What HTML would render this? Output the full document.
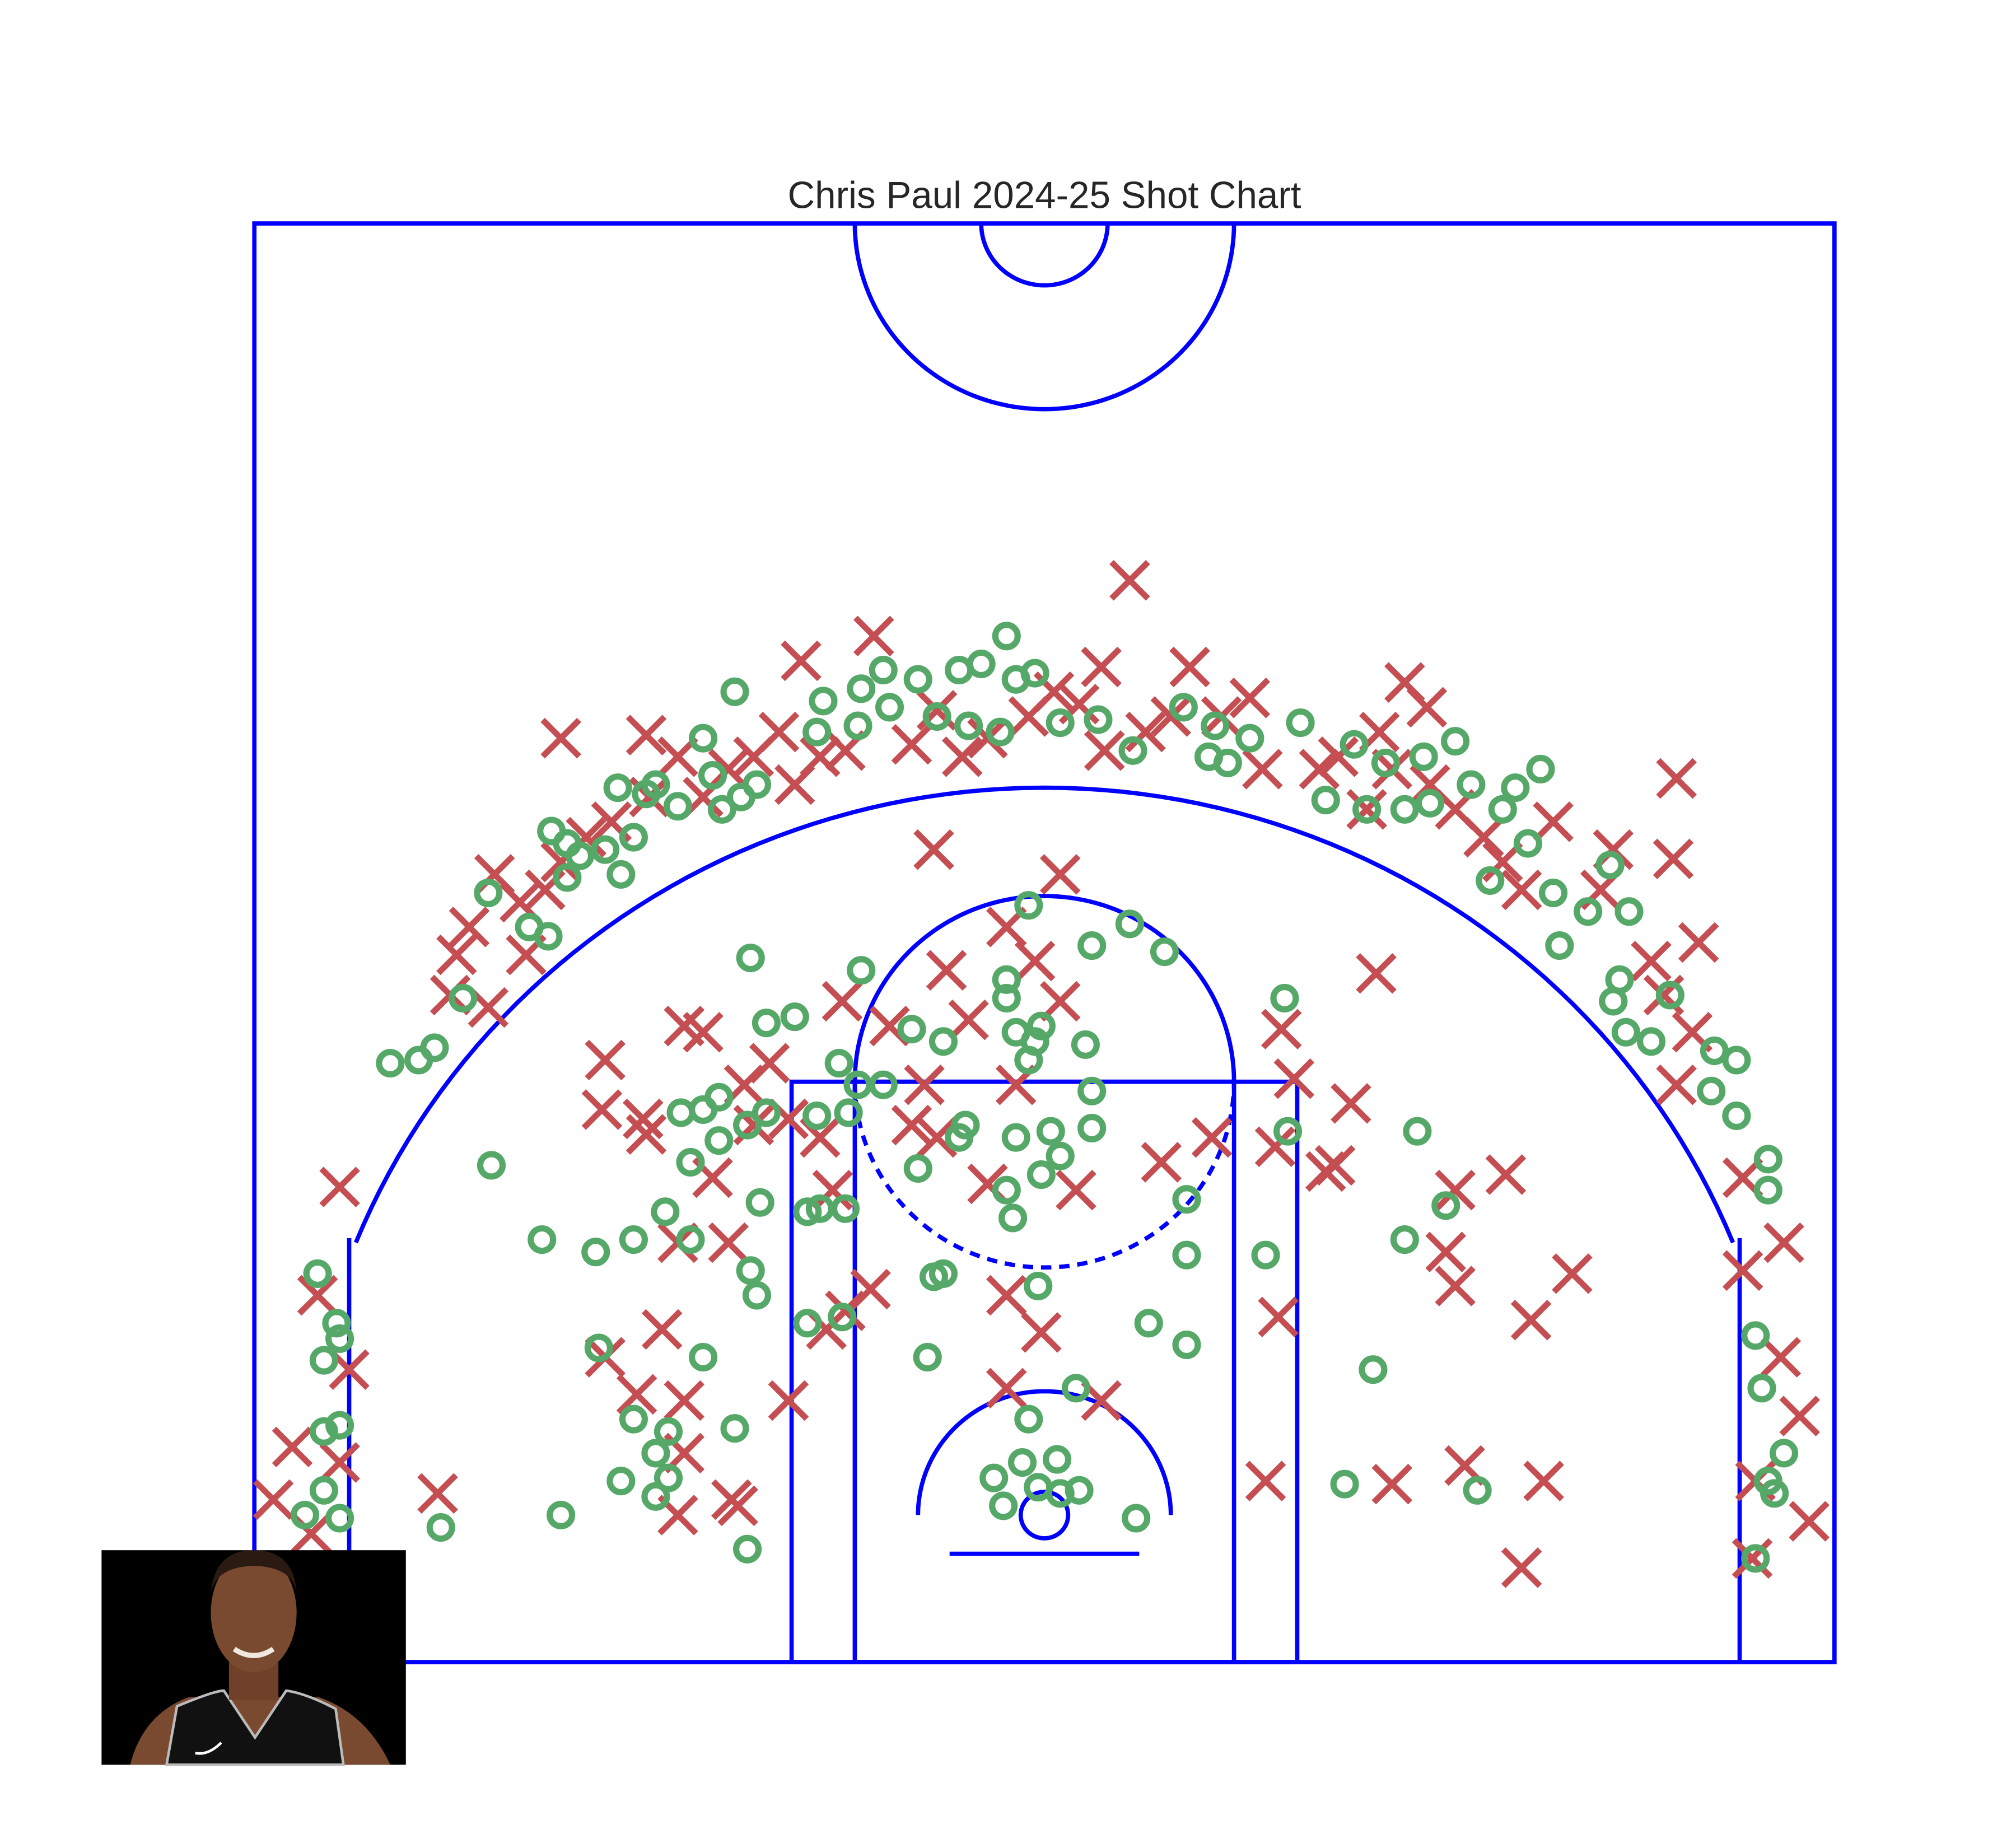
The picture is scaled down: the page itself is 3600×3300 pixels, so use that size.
<!DOCTYPE html>
<html><head><meta charset="utf-8"><title>Chris Paul 2024-25 Shot Chart</title>
<style>html,body{margin:0;padding:0;background:#fff}svg{display:block}</style></head>
<body>
<svg id="chart" width="3600" height="3300" viewBox="0 0 1550 1421" xmlns="http://www.w3.org/2000/svg">
<rect width="1550" height="1421" fill="#fff"/>
<text x="803" y="160" text-anchor="middle" font-family="Liberation Sans, sans-serif" font-size="29" fill="#262626">Chris Paul 2024-25 Shot Chart</text>
<g id="court" fill="none" stroke="#0000ff" stroke-width="3.3"></g>
<g id="misses"></g>
<g id="makes"></g>
<g id="photo">
  <rect x="78" y="1192" width="234" height="165" fill="#000"/>
  <path d="M100 1357 Q110 1318 145 1305 L245 1305 Q282 1318 300 1357 Z" fill="#7a4a30"/>
  <path d="M128 1357 L136 1312 Q165 1300 172 1300 L196 1336 L220 1300 Q235 1302 258 1314 L264 1357 Z" fill="#111" stroke="#bbb" stroke-width="2"/>
  <rect x="176" y="1262" width="38" height="45" fill="#6e4128"/>
  <ellipse cx="195" cy="1240" rx="33" ry="46" fill="#7a4a30"/>
  <path d="M162 1225 Q165 1192 195 1192 Q226 1192 228 1225 Q225 1205 195 1204 Q166 1205 162 1225 Z" fill="#2a1a12"/>
  <path d="M180 1268 Q195 1278 210 1268" stroke="#f0e8e0" stroke-width="4" fill="none"/>
  <path d="M150 1348 Q160 1350 170 1340" stroke="#fff" stroke-width="2" fill="none"/>
</g>
</svg>
<script>
// shot locations in court units (tenths of feet, hoop at 0,0)
var missX=[27,-54,-77,46,18,-153,-126,114,121,200,199,-35,5,-12,-3,-31,105,-64,-49,-114,-108,-139,-140,-127,-126,-87,-105,-81,-71,-95,-42,-34,-18,10,37,53,75,79,97,92,89,130,146,127,130,167,154,74,-55,-81,-69,-12,-1,-12,18,-121,-139,-129,-114,-114,-116,-99,-97,-192,-223,-230,-220,-238,-223,-244,-232,221,234,221,233,239,225,242,224,158,133,110,70,151,207,196,192,205,200,180,176,161,151,145,139,130,122,110,102,93,87,106,65,69,56,40,32,19,11,3,-5,-18,-26,-34,-42,-63,-71,-79,-84,-92,-100,-108,-116,-125,-137,-145,-153,-158,-166,-174,-182,-186,-188,-176,-164,-92,-67,-63,-38,-24,5,-9,-100,-116,73];
var missY=[302,284,276,274,274,251,252,269,261,238,212,215,207,190,179,176,175,166,158,158,156,147,131,128,123,146,109,128,122,139,126,122,107,105,114,122,157,141,133,113,111,105,110,85,74,78,63,64,73,37,60,71,59,41,37,60,51,39,37,20,0,5,3,7,106,71,47,22,17,5,-6,109,88,79,51,32,11,-2,-14,11,16,10,11,-17,185,168,179,156,139,215,202,224,202,211,219,228,236,241,228,245,241,253,264,241,258,258,253,247,262,266,258,251,245,260,249,247,245,236,253,245,241,232,245,232,224,219,211,202,198,207,190,181,168,164,181,126,105,66,139,160,166,139,88,88,119];
var makeX=[-12,-98,-70,-58,-51,-40,-27,-20,-9,-3,-49,-72,-59,-34,-24,-14,5,17,28,44,54,65,58,52,81,98,108,120,130,135,149,157,89,102,114,122,145,153,141,161,172,185,179,163,182,180,184,192,198,212,219,211,219,229,229,225,227,234,229,231,225,137,95,104,114,118,127,77,76,70,45,45,45,33,29,10,-5,-7,4,11,5,-16,-13,-2,15,27,38,-5,-12,-12,-9,-5,-3,-1,13,15,15,5,2,-9,-1,-12,-10,-25,-27,-40,-32,-35,-37,-2,-42,-32,-51,-59,-65,-62,-72,-79,-88,-93,-58,-63,-71,-75,-64,-75,-90,-93,-91,-108,-120,-112,-130,-142,-159,-175,-112,-103,-94,-88,-108,-103,-115,-141,-130,-119,-123,-119,-134,-123,-98,-94,-153,-191,-230,-224,-223,-228,-223,-228,-228,-234,-223,-207,-198,-193,-184,-163,-157,-176,-156,-151,-151,-147,-139,-134,-130,-135,-126,-123,-116,-105,-108,-102,-96,-91];
var makeY=[284,266,263,267,273,270,273,275,270,272,261,253,255,258,255,253,256,257,247,261,255,251,243,245,256,249,243,245,250,236,235,241,231,228,228,230,228,217,205,201,195,195,210,184,173,166,156,153,168,150,147,137,129,115,105,58,41,20,11,7,-14,8,10,47,89,124,100,124,167,84,84,102,55,62,-1,41,31,17,18,8,7,12,3,9,184,191,182,197,173,167,156,147,153,158,152,137,125,116,124,122,110,105,96,126,122,112,78,77,51,74,157,153,139,139,146,130,129,161,159,180,176,99,99,98,64,62,101,79,71,51,98,89,89,85,89,113,114,121,126,130,131,135,130,54,31,27,20,12,11,6,28,-11,0,-4,78,62,57,50,29,27,8,0,-1,146,147,151,167,190,187,201,221,217,206,213,215,207,219,235,233,236,229,239,251,228,232,236];

var NS='http://www.w3.org/2000/svg';
var X0=803, Y0=1165, SX=2.43, SY=2.38, TOP=417.3;
function xs(v){return X0+v*SX;}
function ys(v){return Y0-v*SY;}
function mk(tag,attrs,parent){var e=document.createElementNS(NS,tag);for(var k in attrs)e.setAttribute(k,attrs[k]);parent.appendChild(e);return e;}

var court=document.getElementById('court');
function line(x1,y1,x2,y2,name){var e=mk('line',{x1:xs(x1),y1:ys(y1),x2:xs(x2),y2:ys(y2)},court);

}
function ellArc(cx,cy,r,a0,a1,name,dash){
  var d='';var n=90;
  for(var i=0;i<=n;i++){var a=(a0+(a1-a0)*i/n)*Math.PI/180;var px=xs(cx+r*Math.cos(a)),py=ys(cy+r*Math.sin(a));d+=(i?'L':'M')+px.toFixed(2)+' '+py.toFixed(2);}
  var e=mk('path',{d:d},court);
  if(dash)e.setAttribute('stroke-dasharray',dash);
  
  
}
var r=mk('rect',{x:xs(-250),y:ys(TOP),width:500*SX,height:(TOP+47.5)*SY},court);


ellArc(0,0,7.5,0,360,'hoop');
line(-30,-12.5,30,-12.5,'backboard');
var p1=mk('rect',{x:xs(-80),y:ys(140),width:160*SX,height:187.5*SY},court);


var p2=mk('rect',{x:xs(-60),y:ys(140),width:120*SX,height:187.5*SY},court);


ellArc(0,140,60,0,180,'free-throw-arc-top');
ellArc(0,140,60,180,360,'free-throw-arc-bottom','8 6');
ellArc(0,0,40,0,180,'restricted-area');
line(-220,-47.5,-220,89.5,'corner-three-left');
line(220,-47.5,220,89.5,'corner-three-right');
ellArc(0,0,235,22,158,'three-point-arc');
ellArc(0,TOP,60,180,360,'center-circle-outer');
ellArc(0,TOP,20,180,360,'center-circle-inner');

var gm=document.getElementById('misses');
for(var i=0;i<missX.length;i++){
  var cx=xs(missX[i]),cy=ys(missY[i]),h=14;
  var p=mk('path',{d:'M'+(cx-h)+' '+(cy-h)+'L'+(cx+h)+' '+(cy+h)+'M'+(cx-h)+' '+(cy+h)+'L'+(cx+h)+' '+(cy-h),stroke:'#c44e52','stroke-width':4.6,fill:'none'},gm);
  
  
}
var gk=document.getElementById('makes');
for(var j=0;j<makeX.length;j++){
  var c=mk('circle',{cx:xs(makeX[j]),cy:ys(makeY[j]),r:8.6,stroke:'#55a868','stroke-width':4.8,fill:'none'},gk);
  
  
}
document.getElementById('chart').appendChild(document.getElementById('photo'));
</script>
</body></html>
